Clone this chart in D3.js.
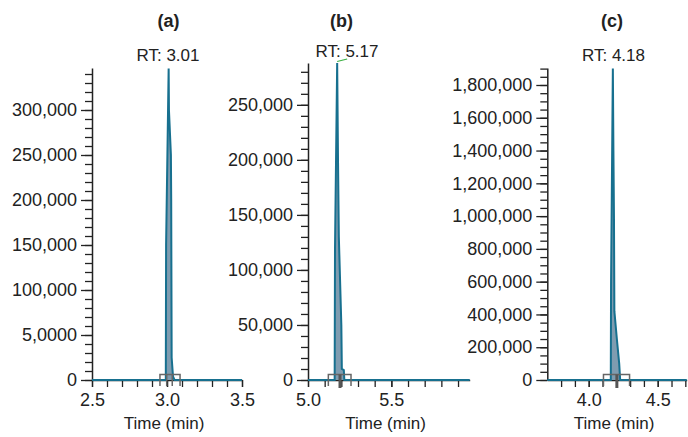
<!DOCTYPE html>
<html>
<head>
<meta charset="utf-8">
<script src="https://cdn.jsdelivr.net/npm/d3@7"></script>
<style>
  body { margin: 0; background: #fff; }
  text { font-family: "Liberation Sans", Arial, sans-serif; fill: #222; }
</style>
</head>
<body>
<svg id="chart" width="688" height="437"></svg>
<script>
// chart values
var panelLabels = ["(a)", "(b)", "(c)"];
var rtLabels = ["RT: 3.01", "RT: 5.17", "RT: 4.18"];

// chromatogram outlines (time in min, intensity)
var timeA = [2.5, 2.992, 2.994, 3.011, 3.013, 3.026, 3.028, 3.031, 3.04, 3.05, 3.5];
var intensityA = [0, 0, 150000, 346000, 300000, 250000, 200000, 25000, 4000, 0, 0];

var timeB = [5.0, 5.160, 5.162, 5.175, 5.180, 5.185, 5.200, 5.203, 5.215, 5.218, 5.97];
var intensityB = [0, 0, 120000, 288000, 200000, 130000, 50000, 10000, 9000, 0, 0];

var timeC = [3.7, 4.160, 4.162, 4.175, 4.179, 4.183, 4.186, 4.204, 4.221, 4.228, 4.71];
var intensityC = [0, 0, 600000, 1900000, 1400000, 1000000, 420000, 250000, 100000, 0, 0];

// integration markers: [box start, box end], inner marks
var boxA = [2.953, 3.087], marksA = [2.998, 3.035];
var boxB = [5.122, 5.258], marksB = [5.192];
var boxC = [4.107, 4.296], marksC = [4.204];

// ticks
var xTicksA = [2.5, 3.0, 3.5], xTickLabelsA = ["2.5", "3.0", "3.5"];
var xTicksB = [5.0, 5.5], xTickLabelsB = ["5.0", "5.5"];
var xTicksC = [4.0, 4.5], xTickLabelsC = ["4.0", "4.5"];
var xMinorA = d3.range(25, 36).map(function(d) { return d / 10; });
var xMinorB = d3.range(50, 60).map(function(d) { return d / 10; });
var xMinorC = d3.range(38, 48).map(function(d) { return d / 10; });

var yTicksA = [0, 50000, 100000, 150000, 200000, 250000, 300000];
var yTickLabelsA = ["0", "5,0000", "100,000", "150,000", "200,000", "250,000", "300,000"];
var yTicksB = [0, 50000, 100000, 150000, 200000, 250000];
var yTickLabelsB = ["0", "50,000", "100,000", "150,000", "200,000", "250,000"];
var yTicksC = [0, 200000, 400000, 600000, 800000, 1000000, 1200000, 1400000, 1600000, 1800000];
var yTickLabelsC = ["0", "200,000", "400,000", "600,000", "800,000", "1,000,000", "1,200,000", "1,400,000", "1,600,000", "1,800,000"];
var yMinorA = d3.range(0, 350000, 10000);
var yMinorB = d3.range(0, 290000, 10000);
var yMinorC = d3.range(0, 1900001, 50000);

var xTitle = "Time (min)";

// layout
var panels = [
  { time: timeA, inten: intensityA, box: boxA, marks: marksA,
    xt: xTicksA, xl: xTickLabelsA, xm: xMinorA, yt: yTicksA, yl: yTickLabelsA, ym: yMinorA,
    xd: [2.5, 3.5], xr: [92, 242], yd: [0, 346667], yr: [380, 68], rtx: 168, titleX: 168.5, axisTitleX: 164 },
  { time: timeB, inten: intensityB, box: boxB, marks: marksB,
    xt: xTicksB, xl: xTickLabelsB, xm: xMinorB, yt: yTicksB, yl: yTickLabelsB, ym: yMinorB,
    xd: [5.0, 5.97], xr: [308, 469.7], yd: [0, 288000], yr: [380, 63], rtx: 347, titleX: 341.5, axisTitleX: 385.5, green: true },
  { time: timeC, inten: intensityC, box: boxC, marks: marksC,
    xt: xTicksC, xl: xTickLabelsC, xm: xMinorC, yt: yTicksC, yl: yTickLabelsC, ym: yMinorC,
    xd: [3.7, 4.71], xr: [547.3, 686.7], yd: [0, 1903700], yr: [380, 68], rtx: 613.5, titleX: 612, axisTitleX: 614 }
];

var lineColor = "#17708f", fillColor = "#7f9cb0";
var svg = d3.select("#chart");

panels.forEach(function(p, i) {
  var x = d3.scaleLinear().domain(p.xd).range(p.xr);
  var y = d3.scaleLinear().domain(p.yd).range(p.yr);
  var g = svg.append("g");

  // y axis: minor then major
  g.append("g").attr("transform", "translate(" + p.xr[0] + ",0)")
    .call(d3.axisLeft(y).tickValues(p.ym).tickSize(7).tickFormat(""))
    .call(function(a) { a.select(".domain").remove(); a.selectAll("line").attr("stroke", "#222").attr("stroke-width", 1.3); });
  g.append("g").attr("transform", "translate(" + p.xr[0] + ",0)")
    .call(d3.axisLeft(y).tickValues(p.yt).tickSize(11).tickPadding(4).tickSizeOuter(0)
      .tickFormat(function(d, k) { return p.yl[k]; }))
    .call(function(a) {
      a.select(".domain").attr("stroke", "#222").attr("stroke-width", 1.5);
      a.selectAll("line").attr("stroke", "#222").attr("stroke-width", 1.3);
      a.selectAll("text").attr("font-size", 18).attr("font-family", "Liberation Sans, Arial").attr("fill", "#222");
    });

  // x axis
  g.append("g").attr("transform", "translate(0," + p.yr[0] + ")")
    .call(d3.axisBottom(x).tickValues(p.xm).tickSize(7).tickFormat(""))
    .call(function(a) { a.select(".domain").remove(); a.selectAll("line").attr("stroke", "#222").attr("stroke-width", 1.3); });
  g.append("g").attr("transform", "translate(0," + p.yr[0] + ")")
    .call(d3.axisBottom(x).tickValues(p.xt).tickSize(7).tickPadding(6).tickSizeOuter(0)
      .tickFormat(function(d, k) { return p.xl[k]; }))
    .call(function(a) {
      a.select(".domain").attr("stroke", "#222").attr("stroke-width", 1.5);
      a.selectAll("line").attr("stroke", "#222").attr("stroke-width", 1.3);
      a.selectAll("text").attr("font-size", 18).attr("font-family", "Liberation Sans, Arial").attr("fill", "#222");
    });

  var pts = p.time.map(function(t, k) { return [t, p.inten[k]]; });

  g.append("path").datum(pts)
    .attr("d", d3.area().x(function(d) { return x(d[0]); }).y0(y(0)).y1(function(d) { return y(d[1]); }))
    .attr("fill", fillColor);
  g.append("path").datum(pts)
    .attr("d", d3.line().x(function(d) { return x(d[0]); }).y(function(d) { return y(d[1]); }))
    .attr("fill", "none").attr("stroke", lineColor).attr("stroke-width", 2);

  // integration marker
  var bx0 = x(p.box[0]), bx1 = x(p.box[1]);
  g.append("path")
    .attr("d", "M" + bx0 + ",386V374.5H" + bx1 + "V386")
    .attr("fill", "none").attr("stroke", "#666").attr("stroke-width", 1.5);
  p.marks.forEach(function(m) {
    g.append("line")
      .attr("x1", x(m)).attr("x2", x(m))
      .attr("y1", 374.5).attr("y2", p.marks.length > 1 ? 386 : 388)
      .attr("stroke", p.marks.length > 1 ? "#666" : "#555")
      .attr("stroke-width", p.marks.length > 1 ? 1.5 : 3);
  });

  // labels
  svg.append("text").attr("x", p.titleX).attr("y", 27).attr("text-anchor", "middle")
    .attr("font-size", 18).attr("font-weight", "bold").text(panelLabels[i]);
  svg.append("text").attr("x", p.rtx).attr("y", i === 1 ? 57 : 61).attr("text-anchor", "middle")
    .attr("font-size", 17).text(rtLabels[i]);
  svg.append("text").attr("x", p.axisTitleX).attr("y", 429).attr("text-anchor", "middle")
    .attr("font-size", 17).text(xTitle);

  if (p.green) {
    g.append("line").attr("x1", x(p.time[3])).attr("y1", 61.5).attr("x2", x(p.time[3]) + 10).attr("y2", 59)
      .attr("stroke", "#3cb043").attr("stroke-width", 1.2);
  }
});
</script>
</body>
</html>
